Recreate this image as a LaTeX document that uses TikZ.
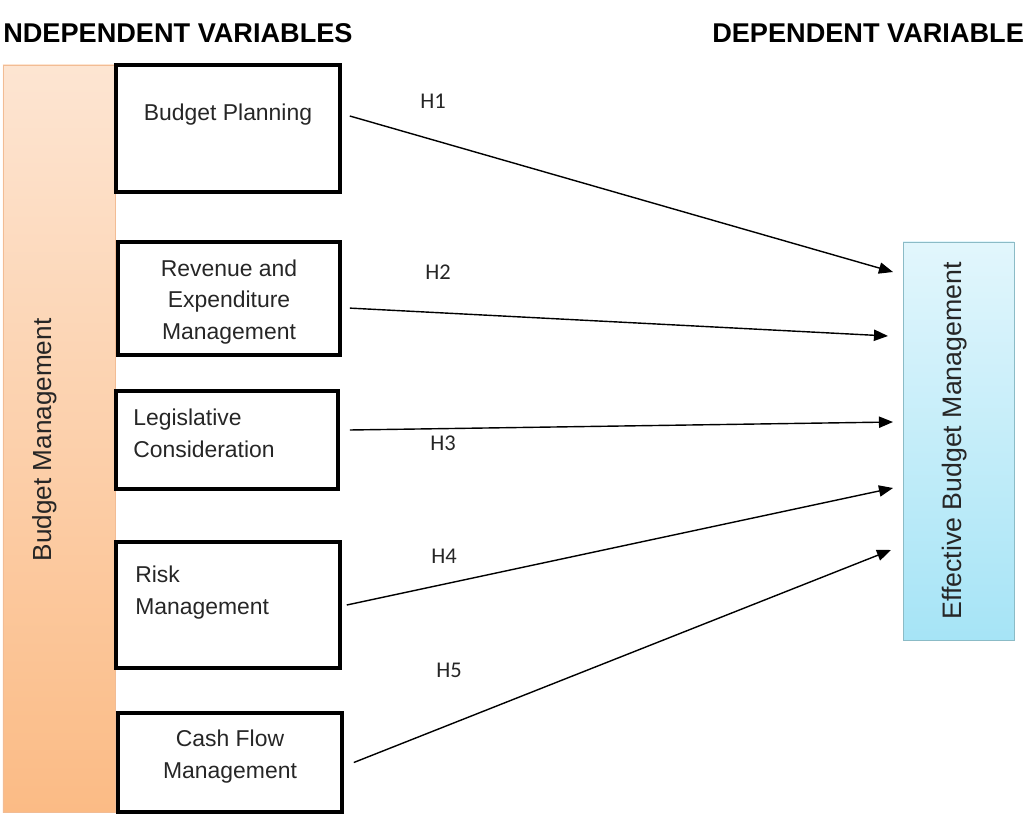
\documentclass[tikz,border=0pt]{standalone}
\usepackage{fontspec}
\setmainfont{Liberation Sans}
\newfontfamily\hfont{Carlito}
\usetikzlibrary{arrows.meta}

\definecolor{orangetop}{HTML}{FDE5D2}
\definecolor{orangebot}{HTML}{FBBB85}
\definecolor{orangeedge}{HTML}{F2BC94}
\definecolor{bluetop}{HTML}{E2F6FC}
\definecolor{bluebot}{HTML}{A6E4F6}
\definecolor{blueedge}{HTML}{8BBBC6}

\begin{document}
\begin{tikzpicture}[x=0.025cm,y=-0.025cm,
    box/.style={rectangle,draw,line width=2.5pt,inner sep=0pt},
    txt/.style={font=\fontsize{16.3}{22.7}\selectfont,inner sep=0pt,text=black!85},
    hyp/.style={font=\hfont\fontsize{16}{18}\selectfont,inner sep=0pt,text=black!85},
    link/.style={line width=1pt,-{Triangle[length=10pt,width=8pt]}}]
    \useasboundingbox (0,0) rectangle (1024,820);
    \node[anchor=base west,inner sep=0pt,font=\bfseries\fontsize{19.3}{22}\selectfont] (iv) at (3,43) {NDEPENDENT VARIABLES};
    \node[anchor=base west,inner sep=0pt,font=\bfseries\fontsize{19.3}{22}\selectfont] (dv) at (712,43) {DEPENDENT VARIABLE};
    \node[rectangle,draw=orangeedge,top color=orangetop,bottom color=orangebot,minimum width=2.8cm,minimum height=18.675cm] (bm) at (59,438.5) {};
    \node[rotate=90,font=\fontsize{18.6}{22}\selectfont,inner sep=0pt,text=black!85] (bmt) at (45,440) {Budget Management};
    \node[box,minimum width=5.6cm,minimum height=3.175cm] (bp) at (228,128.5) {};
    \node[box,minimum width=5.55cm,minimum height=2.825cm] (rev) at (229,298.5) {};
    \node[box,minimum width=5.55cm,minimum height=2.45cm] (leg) at (227,440) {};
    \node[box,minimum width=5.6cm,minimum height=3.15cm] (risk) at (228,605) {};
    \node[box,minimum width=5.6cm,minimum height=2.475cm] (cash) at (230,762.5) {};
    \node[txt] (bpt) at (228,115) {Budget Planning};
    \node[txt,align=center] (revt) at (229,302) {Revenue and\\Expenditure\\Management};
    \node[txt,align=left,anchor=west] (legt) at (133,433) {Legislative\\Consideration};
    \node[txt,align=left,anchor=west] (riskt) at (135,593) {Risk\\Management};
    \node[txt,align=center] (casht) at (230,757) {Cash Flow\\Management};
    \node[rectangle,draw=blueedge,top color=bluetop,bottom color=bluebot,minimum width=2.775cm,minimum height=9.95cm] (ebm) at (958.5,441) {};
    \node[rotate=90,font=\fontsize{19}{22}\selectfont,inner sep=0pt,text=black!85] (ebmt) at (955,441) {Effective Budget Management};
    \coordinate (e1) at (893,272);
    \coordinate (e2) at (888,336);
    \coordinate (e3) at (893,422);
    \coordinate (e4) at (893,488);
    \coordinate (e5) at (891,550);
    \draw[link] ([xshift=0.2cm,yshift=0.3125cm]bp.east) -- (e1);
    \draw[link] ([xshift=0.2cm,yshift=-0.24cm]rev.east) -- (e2);
    \draw[link] ([xshift=0.25cm,yshift=0.25cm]leg.east) -- (e3);
    \draw[link] ([xshift=0.125cm]risk.east) -- (e4);
    \draw[link] ([xshift=0.25cm]cash.east) -- (e5);
    \node[hyp] (h1) at (433,101) {H1};
    \node[hyp] (h2) at (438,272) {H2};
    \node[hyp] (h3) at (443,443) {H3};
    \node[hyp] (h4) at (444,556) {H4};
    \node[hyp] (h5) at (449,670) {H5};
\end{tikzpicture}
\end{document}
